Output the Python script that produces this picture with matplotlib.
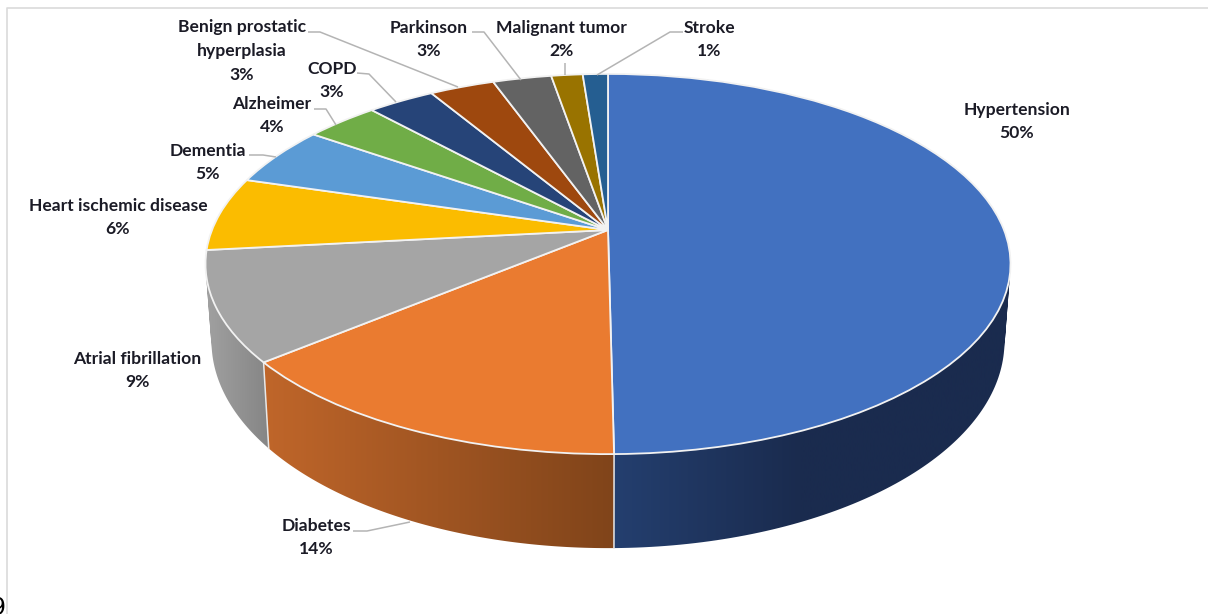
import numpy as np
import matplotlib
matplotlib.use("Agg")
import matplotlib.pyplot as plt
from matplotlib.patches import PathPatch
from matplotlib.path import Path
from matplotlib.transforms import Transform
from matplotlib.colors import to_rgb

# ---- data -------------------------------------------------------------
categories = ["Hypertension", "Diabetes", "Atrial fibrillation",
              "Heart ischemic disease", "Dementia", "Alzheimer", "COPD",
              "Benign prostatic\nhyperplasia", "Parkinson",
              "Malignant tumor", "Stroke"]
values = [49.8, 14.2, 9.3, 6.3, 5.1, 3.5, 3.2, 3.1, 2.8, 1.5, 1.2]
percent_labels = ["50%", "14%", "9%", "6%", "5%", "4%", "3%", "3%", "3%", "2%", "1%"]
colors = ["#4271C0", "#EA7B30", "#A5A5A5", "#FBBC00", "#5B9BD5", "#70AD47",
          "#264478", "#9E480E", "#636363", "#997300", "#255E91"]

# ---- layout (pixel space of the 1208x614 figure) ---------------------
label_pos = [(1017, 121.5), (316, 537.5), (137, 370.5), (118, 217.5), (208, 162.5),
             (272, 115.5), (332, 80.5), (242, 51), (429, 39.5), (561, 39.5), (709, 39.5)]
leaders = {"Diabetes": [(353, 531), (367, 531), (410, 522)],
           "Dementia": [(249, 155), (263, 155), (276, 157)],
           "Alzheimer": [(314, 109), (326, 109), (336, 125)],
           "COPD": [(357, 73), (369, 74), (396, 102)],
           "Benign": [(308, 32), (320, 32), (458, 87)],
           "Parkinson": [(472, 32), (484, 32), (521, 80)],
           "Malignant": [(565, 63), (565, 75)],
           "Stroke": [(683, 32), (670, 32), (597, 75)]}
wall_gradient = {0: ("#243F6F", "#1A2B4E", 613, 800),
                 1: ("#C0662A", "#80441A", 262, 613),
                 2: ("#A0A0A0", "#858585", 208, 270)}


class DiskToScreen(Transform):
    """Perspective projection of the unit disk onto the figure's pixels."""
    input_dims = output_dims = 2
    is_separable = False
    has_inverse = False

    def __init__(self, cx, cy, sx, sy, k=0.179):
        super().__init__()
        self.p = (cx, cy, sx, sy, k)

    def transform_non_affine(self, values):
        cx, cy, sx, sy, k = self.p
        v = np.asarray(values, float)
        w = 1 + k * v[:, 1]
        return np.column_stack([cx + sx * v[:, 0] / w, cy - sy * v[:, 1] / w])


top = DiskToScreen(608, 230, 396, 184)
bottom = DiskToScreen(608, 304.5, 396 * 0.985, 184 * 1.087)

plt.rcParams["font.family"] = ["Lato", "DejaVu Sans"]
fig = plt.figure(figsize=(12.08, 6.14), dpi=100, facecolor="white")
ax = fig.add_axes([0, 0, 1, 1])

wedges, _ = ax.pie(values, colors=colors, startangle=90, counterclock=False,
                   wedgeprops=dict(edgecolor="#F2F2F2", linewidth=1.3, zorder=5))
ax.set_aspect("auto")
for w in wedges:
    w.set_transform(top + ax.transData)


def rim(tr, pct):
    a = np.asarray(pct) / 100 * 2 * np.pi
    return tr.transform(np.column_stack([np.sin(a), np.cos(a)]))


def wall_path(a, b):
    """Union of the wall's quads, all wound the same way."""
    verts, codes = [], []
    for j in range(len(a) - 1):
        q = np.array([a[j], a[j + 1], b[j + 1], b[j]])
        x, y = q[:, 0], q[:, 1]
        if np.dot(x, np.roll(y, -1)) - np.dot(y, np.roll(x, -1)) < 0:
            q = q[::-1]
        verts.extend(list(q) + [q[0]])
        codes.extend([Path.MOVETO, Path.LINETO, Path.LINETO, Path.LINETO, Path.CLOSEPOLY])
    return Path(np.array(verts), codes)


# ---- side wall: a horizontal gradient image clipped to each slice's wall
edges = np.concatenate([[0], np.cumsum(values)])
for i, (c0, c1, x0, x1) in wall_gradient.items():
    p = np.linspace(edges[i], edges[i + 1], 200)
    a, b = rim(top, p), rim(bottom, p)
    outline = PathPatch(wall_path(a, b), transform=ax.transData,
                        facecolor="none", edgecolor="none")
    ax.add_patch(outline)
    left, right = min(x0, a[:, 0].min(), b[:, 0].min()), max(x1, a[:, 0].max(), b[:, 0].max())
    xs = np.linspace(left, right, 512)
    t = np.clip((xs - x0) / (x1 - x0), 0, 1)[None, :, None]
    img = np.array(to_rgb(c0)) * (1 - t) + np.array(to_rgb(c1)) * t
    im = ax.imshow(img, extent=(left, right, 614, 0), aspect="auto",
                   interpolation="bilinear", zorder=2)
    im.set_clip_path(outline)

# white seams between the wall pieces
for pct in (edges[1], edges[2]):
    a, b = rim(top, [pct]), rim(bottom, [pct])
    ax.plot([a[0, 0], b[0, 0]], [a[0, 1], b[0, 1]], color="#E8E8E8", lw=1.1, zorder=3)

# ---- leader lines and labels ------------------------------------------
for pts in leaders.values():
    xs, ys = zip(*pts)
    ax.plot(xs, ys, color="#B4B4B4", lw=1.1, zorder=6, solid_capstyle="butt")

for name, pct, (x, y) in zip(categories, percent_labels, label_pos):
    ax.text(x, y, f"{name}\n{pct}", ha="center", va="center", ma="center",
            fontsize=12.6, fontweight="bold", color="#1B1B26",
            linespacing=1.6, zorder=7)

# ---- frame remains of the source screenshot ---------------------------
ax.plot([7, 7, 1208], [614, 8, 8], color="#DADADA", lw=1.2, zorder=1)
ax.text(-9, 596, "9", fontsize=17, color="black", ha="left", va="top",
        family="DejaVu Sans", clip_on=False)

ax.set_xlim(0, 1208)
ax.set_ylim(614, 0)
ax.axis("off")

fig.savefig("out.png", dpi=100)
